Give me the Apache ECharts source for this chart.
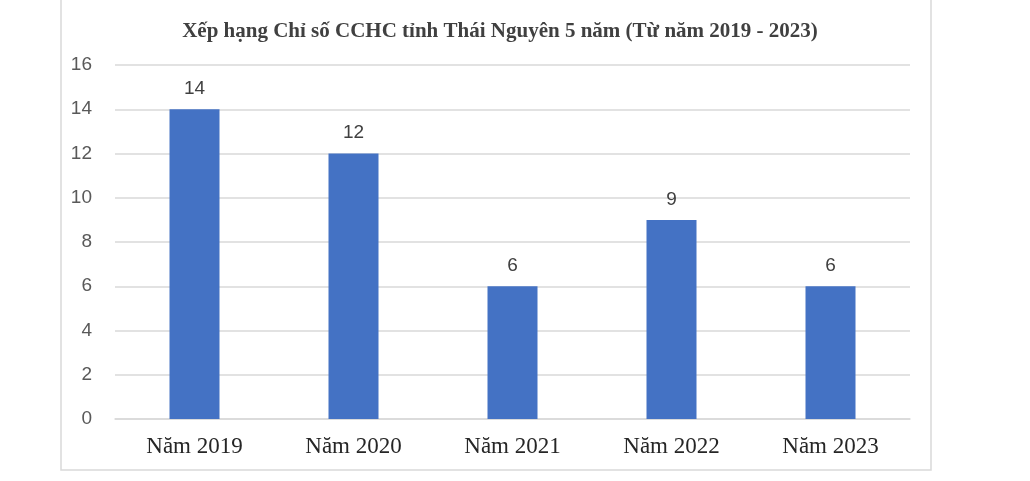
<!DOCTYPE html>
<html><head><meta charset="utf-8">
<script src="https://cdn.jsdelivr.net/npm/echarts@6/dist/echarts.min.js"></script>
<style>html,body{margin:0;padding:0;background:#fff}#c{width:1030px;height:481px}</style>
</head><body><div id="c"></div>
<script>
const titleText = 'Xếp hạng Chỉ số CCHC tỉnh Thái Nguyên 5 năm (Từ năm 2019 - 2023)';
const categories = ['Năm 2019', 'Năm 2020', 'Năm 2021', 'Năm 2022', 'Năm 2023'];
const ranks = [14, 12, 6, 9, 6];

const chart = echarts.init(document.getElementById('c'));
chart.setOption({
  animation: false,
  backgroundColor: '#fff',
  title: {
    text: titleText, left: 495, top: 16, textAlign: 'center',
    textStyle: { fontFamily: 'Liberation Serif', fontWeight: 'bold', fontSize: 21, color: '#404040' }
  },
  graphic: [{ type: 'rect', shape: { x: 61, y: -5, width: 870, height: 475 },
    style: { fill: 'none', stroke: '#d9d9d9', lineWidth: 1.5 }, silent: true }],
  grid: { left: 115, right: 120, top: 65, bottom: 62 },
  xAxis: {
    type: 'category', data: categories,
    axisLine: { lineStyle: { color: '#d9d9d9', width: 1.5 } },
    axisTick: { show: false },
    axisLabel: { fontFamily: 'Liberation Serif', fontSize: 23, color: '#262626', margin: 16 }
  },
  yAxis: {
    type: 'value', min: 0, max: 16, interval: 2,
    axisLine: { show: false }, axisTick: { show: false },
    splitLine: { lineStyle: { color: '#d9d9d9', width: 1.5 } },
    axisLabel: { fontFamily: 'Liberation Sans', fontSize: 19, color: '#595959', margin: 23 }
  },
  series: [{
    type: 'bar', data: ranks, barWidth: 50,
    itemStyle: { color: '#4472C4' },
    label: { show: true, position: 'top', distance: 11, fontFamily: 'Liberation Sans', fontSize: 19, color: '#404040' }
  }]
});
</script></body></html>
